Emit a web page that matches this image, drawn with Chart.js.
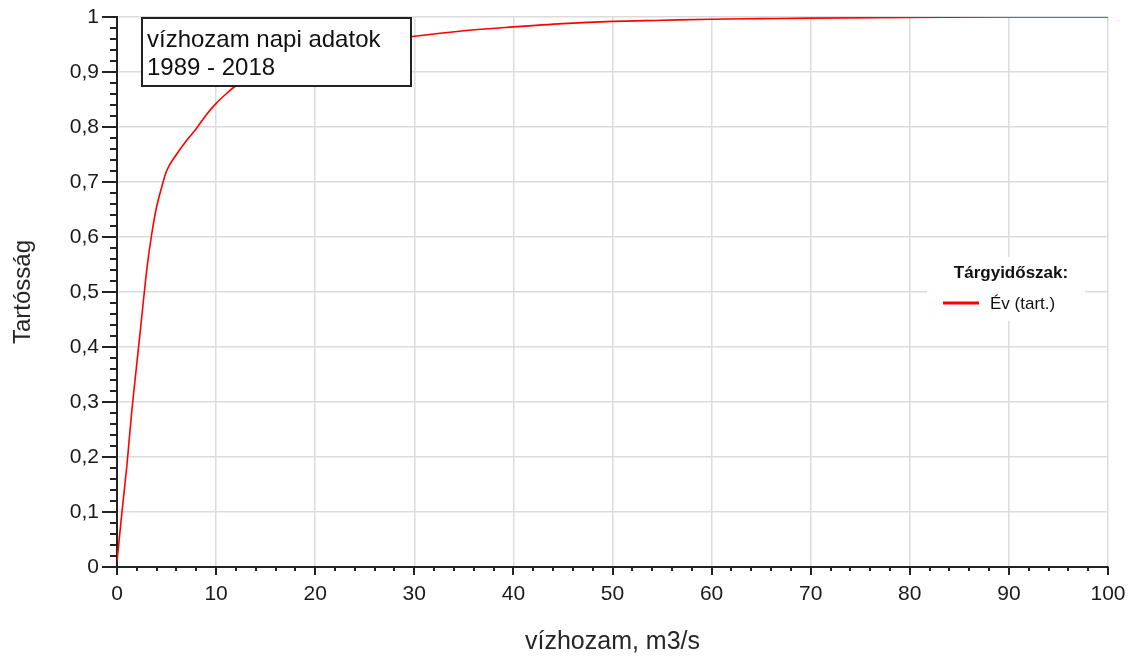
<!DOCTYPE html>
<html>
<head>
<meta charset="utf-8">
<script src="https://cdn.jsdelivr.net/npm/chart.js@4/dist/chart.umd.min.js"></script>
<style>
  html, body { margin: 0; padding: 0; background: #fff; }
  #wrap { width: 1134px; height: 657px; }
</style>
</head>
<body>
<div id="wrap"><canvas id="durationChart"></canvas></div>
<script>
// flow (m3/s) and duration (tartósság)
const flowValues = [0, 0.5, 1, 1.5, 2, 2.5, 3, 3.5, 4, 4.5, 5, 6, 7, 8, 9, 10, 11, 12, 14, 16, 18, 20, 22, 25, 28, 30, 35, 40, 45, 50, 55, 60, 65, 70, 80, 90, 100];
const durationValues = [0.01, 0.1, 0.185, 0.285, 0.37, 0.455, 0.54, 0.605, 0.655, 0.69, 0.72, 0.75, 0.775, 0.797, 0.822, 0.843, 0.86, 0.875, 0.895, 0.91, 0.925, 0.935, 0.943, 0.952, 0.96, 0.965, 0.975, 0.982, 0.988, 0.992, 0.994, 0.996, 0.997, 0.998, 0.999, 1, 1];

const seriesLabel = 'Év (tart.)';
const legendTitle = 'Tárgyidőszak:';
const noteLines = ['vízhozam napi adatok', '1989 - 2018'];
const xTitle = 'vízhozam, m3/s';
const yTitle = 'Tartósság';

const FONT = "'Liberation Sans', Arial, sans-serif";

// major + minor tick marks outside the axes
const axisTicks = {
  id: 'axisTicks',
  afterDatasetsDraw(chart) {
    const { ctx, scales: { x, y } } = chart;
    ctx.save();
    ctx.strokeStyle = '#222';
    ctx.lineWidth = 2;
    ctx.beginPath();
    for (let i = 0; i <= 50; i++) {
      const px = Math.round(x.getPixelForValue(i * 2));
      const len = i % 5 === 0 ? 8 : 4;
      ctx.moveTo(px, y.bottom);
      ctx.lineTo(px, y.bottom + len);
    }
    for (let i = 0; i <= 50; i++) {
      const py = Math.round(y.getPixelForValue(i * 0.02));
      const len = i % 5 === 0 ? 15 : 7;
      ctx.moveTo(x.left, py);
      ctx.lineTo(x.left - len, py);
    }
    ctx.stroke();
    ctx.restore();
  }
};

// text box + legend
const overlays = {
  id: 'overlays',
  afterDraw(chart) {
    const { ctx } = chart;
    const ds = chart.data.datasets[0];
    ctx.save();

    // note box
    ctx.fillStyle = '#fff';
    ctx.fillRect(142, 18, 269, 68);
    ctx.strokeStyle = '#222';
    ctx.lineWidth = 2;
    ctx.strokeRect(142, 18, 269, 68);
    ctx.fillStyle = '#111';
    ctx.font = '24px ' + FONT;
    ctx.textBaseline = 'alphabetic';
    ctx.textAlign = 'left';
    ctx.fillText(noteLines[0], 147, 47);
    ctx.fillText(noteLines[1], 147, 75);

    // legend
    ctx.fillStyle = '#fff';
    ctx.fillRect(927, 257, 158, 64);
    ctx.fillStyle = '#111';
    ctx.textAlign = 'center';
    ctx.textBaseline = 'middle';
    ctx.font = 'bold 17px ' + FONT;
    ctx.fillText(legendTitle, 1011, 273);
    ctx.strokeStyle = ds.borderColor;
    ctx.lineWidth = 3;
    ctx.beginPath();
    ctx.moveTo(943, 303);
    ctx.lineTo(979, 303);
    ctx.stroke();
    ctx.textAlign = 'left';
    ctx.font = '17px ' + FONT;
    ctx.fillText(seriesLabel, 990, 304);
    ctx.restore();
  }
};

new Chart(document.getElementById('durationChart'), {
  type: 'line',
  data: {
    datasets: [{
      label: seriesLabel,
      data: flowValues.map((v, i) => ({ x: v, y: durationValues[i] })),
      borderColor: '#ff0000',
      borderWidth: 1.6,
      pointRadius: 0,
      cubicInterpolationMode: 'monotone',
      fill: false
    }]
  },
  options: {
    responsive: true,
    maintainAspectRatio: false,
    animation: false,
    events: [],
    layout: {
      padding: { left: 0, top: 17, right: 26, bottom: 0 }
    },
    plugins: {
      legend: { display: false },
      tooltip: { enabled: false }
    },
    scales: {
      x: {
        type: 'linear',
        min: 0,
        max: 100,
        afterFit: s => { s.height = 90; },
        border: { color: '#222', width: 2 },
        grid: { color: '#dcdcdc', lineWidth: 1.5, tickLength: 12, tickColor: 'rgba(0,0,0,0)' },
        ticks: {
          stepSize: 10,
          padding: 3,
          color: '#1a1a1a',
          font: { family: FONT, size: 21 },
          maxRotation: 0
        },
        title: {
          display: true,
          text: xTitle,
          color: '#262626',
          font: { family: FONT, size: 25 },
          padding: { top: 6, bottom: 0 }
        }
      },
      y: {
        min: 0,
        max: 1,
        afterFit: s => { s.width = 117; },
        border: { color: '#222', width: 2 },
        grid: { color: '#dcdcdc', lineWidth: 1.5, tickLength: 15, tickColor: 'rgba(0,0,0,0)' },
        ticks: {
          stepSize: 0.1,
          padding: 3,
          color: '#1a1a1a',
          font: { family: FONT, size: 21 },
          callback: v => String(Number(v.toFixed(1))).replace('.', ',')
        },
        title: {
          display: true,
          text: yTitle,
          color: '#262626',
          font: { family: FONT, size: 24 },
          padding: { top: 9, bottom: 0 }
        }
      }
    }
  },
  plugins: [axisTicks, overlays]
});
</script>
</body>
</html>
